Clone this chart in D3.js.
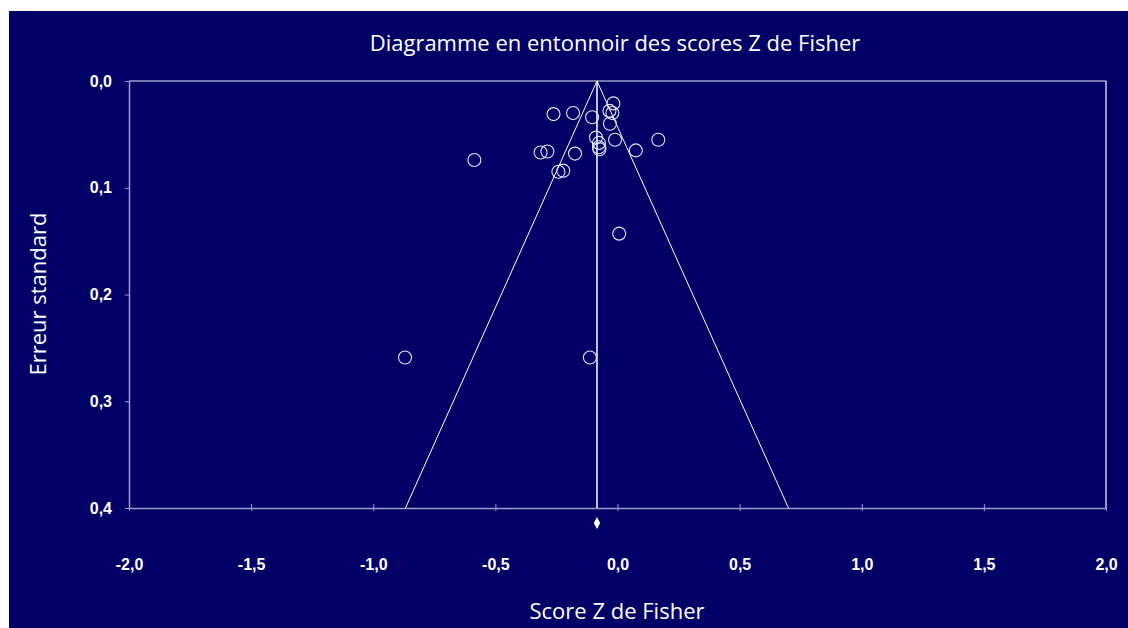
<!DOCTYPE html>
<html>
<head>
<meta charset="utf-8">
<script src="https://cdn.jsdelivr.net/npm/d3@7"></script>
<style>
  html, body { margin: 0; padding: 0; background: #fff; }
  svg { display: block; }
</style>
</head>
<body>
<svg id="chart"></svg>
<script>
// Fisher Z scores and their standard errors
const zScores = [-0.262, -0.182, -0.104, -0.017, -0.033, -0.021, -0.031, -0.088, -0.010,
  -0.076, -0.076, -0.074, 0.167, 0.075, -0.174, -0.315, -0.287, -0.586, -0.242, -0.222,
  0.007, -0.870, -0.113];
const stdErrors = [0.031, 0.030, 0.034, 0.021, 0.028, 0.030, 0.040, 0.053, 0.055,
  0.058, 0.062, 0.064, 0.055, 0.065, 0.068, 0.067, 0.066, 0.074, 0.085, 0.084,
  0.143, 0.259, 0.259];
const pooledZ = -0.084;
const xTicks = [-2, -1.5, -1, -0.5, 0, 0.5, 1, 1.5, 2];
const yTicks = [0, 0.1, 0.2, 0.3, 0.4];
const title = "Diagramme en entonnoir des scores Z de Fisher";
const xTitle = "Score Z de Fisher";
const yTitle = "Erreur standard";

const width = 1128;
const height = 628;
const marginLeft = 129;
const marginRight = 22;
const marginTop = 81;
const marginBottom = 120;

const bg = "#000066";
const axisColor = "#9c9cc8";

const fr = d3.formatLocale({ decimal: ",", thousands: " ", grouping: [3], currency: ["", " €"], minus: "-" });
const fmt = fr.format(".1f");

const svg = d3.select("#chart")
  .attr("width", width)
  .attr("height", height)
  .attr("viewBox", [0, 0, width, height]);

// navy background
svg.append("rect")
  .attr("x", 9).attr("y", 11)
  .attr("width", width - 9).attr("height", height - 11)
  .attr("fill", bg);

const x = d3.scaleLinear().domain([-2, 2]).range([marginLeft, width - marginRight]);
const y = d3.scaleLinear().domain([0, 0.4]).range([marginTop, height - marginBottom]);

// Title
svg.append("text")
  .attr("x", 615)
  .attr("y", 51)
  .attr("text-anchor", "middle")
  .attr("fill", "#fff")
  .style("font-family", "'Open Sans', sans-serif")
  .style("font-size", "22px")
  .text(title);

// frame: top lavender, right white
svg.append("line")
  .attr("x1", x(-2)).attr("x2", x(2))
  .attr("y1", y(0)).attr("y2", y(0))
  .attr("stroke", axisColor).attr("stroke-width", 1.5);
svg.append("line")
  .attr("x1", x(2)).attr("x2", x(2))
  .attr("y1", y(0)).attr("y2", y(0.4))
  .attr("stroke", "#fff").attr("stroke-width", 1.2);

// X axis
const xAxis = svg.append("g")
  .attr("transform", `translate(0,${y(0.4)})`)
  .call(d3.axisBottom(x).tickValues(xTicks).tickFormat(fmt).tickSize(0).tickPadding(51));
xAxis.select(".domain").attr("stroke", axisColor).attr("stroke-width", 1.5);
xAxis.selectAll(".tick").append("line")
  .attr("y1", -4).attr("y2", 3)
  .attr("stroke", axisColor);
xAxis.selectAll(".tick text")
  .attr("fill", "#fff")
  .style("font-family", "'Liberation Sans', Arial, sans-serif")
  .style("font-size", "16px")
  .style("font-weight", "bold");

// Y axis
const yAxis = svg.append("g")
  .attr("transform", `translate(${x(-2)},0)`)
  .call(d3.axisLeft(y).tickValues(yTicks).tickFormat(fmt).tickSize(4).tickPadding(13).tickSizeOuter(0));
yAxis.select(".domain").attr("stroke", axisColor).attr("stroke-width", 1.5);
yAxis.selectAll(".tick line").attr("stroke", axisColor);
yAxis.selectAll(".tick text")
  .attr("fill", "#fff")
  .style("font-family", "'Liberation Sans', Arial, sans-serif")
  .style("font-size", "16px")
  .style("font-weight", "bold");

// Axis titles
svg.append("text")
  .attr("x", 617)
  .attr("y", 619)
  .attr("text-anchor", "middle")
  .attr("fill", "#fff")
  .style("font-family", "'Open Sans', sans-serif")
  .style("font-size", "22px")
  .text(xTitle);

svg.append("text")
  .attr("transform", `translate(46,${294}) rotate(-90)`)
  .attr("text-anchor", "middle")
  .attr("fill", "#fff")
  .style("font-family", "'Open Sans', sans-serif")
  .style("font-size", "22px")
  .text(yTitle);

// Funnel (95% limits) and pooled estimate line
const seMax = 0.4;
const funnel = [[pooledZ - 1.96 * seMax, seMax], [pooledZ, 0], [pooledZ + 1.96 * seMax, seMax]];
svg.append("path")
  .datum(funnel)
  .attr("fill", "none")
  .attr("stroke", "#fff")
  .attr("stroke-width", 1)
  .attr("d", d3.line().x(d => x(d[0])).y(d => y(d[1])));

svg.append("line")
  .attr("x1", x(pooledZ)).attr("x2", x(pooledZ))
  .attr("y1", y(0)).attr("y2", y(0.4))
  .attr("stroke", "#fff").attr("stroke-width", 1.5);

// Studies
svg.append("g")
  .selectAll("circle")
  .data(zScores)
  .join("circle")
  .attr("cx", d => x(d))
  .attr("cy", (d, i) => y(stdErrors[i]))
  .attr("r", 6.5)
  .attr("fill", "none")
  .attr("stroke", "#e6e6f5")
  .attr("stroke-width", 1.1);

// Pooled diamond under the axis
const dy = y(0.4) + 15;
svg.append("path")
  .attr("transform", `translate(${x(pooledZ)},${dy})`)
  .attr("d", "M0,-6L3.2,0L0,6L-3.2,0Z")
  .attr("fill", "#fff");
</script>
</body>
</html>
